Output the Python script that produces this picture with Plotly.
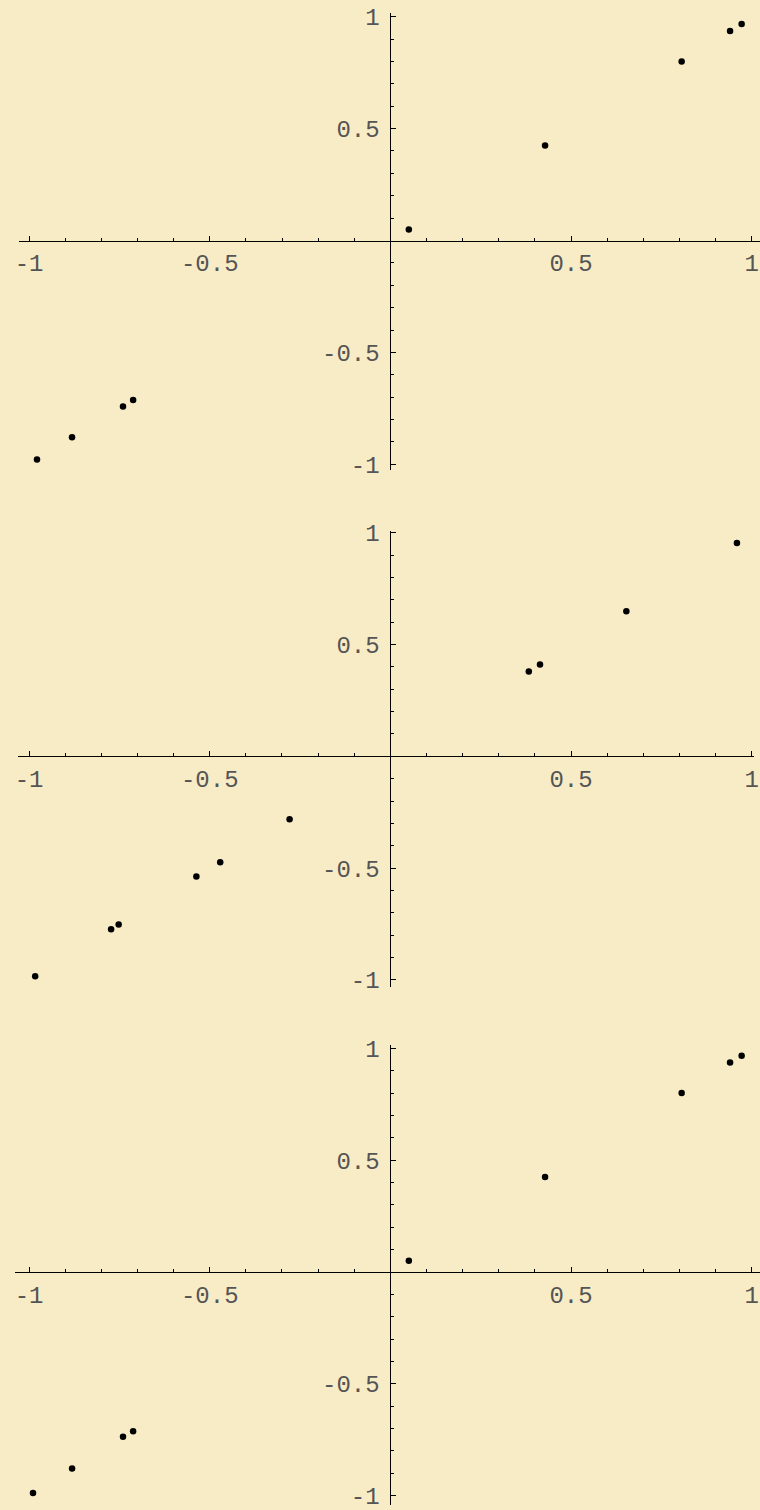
import plotly.graph_objects as go

# ---- data ----
p1_x = [0.051, 0.428, 0.806, 0.940, 0.972, -0.978, -0.881, -0.740, -0.712]
p1_y = [0.049, 0.425, 0.800, 0.936, 0.967, -0.979, -0.879, -0.742, -0.713]

p2_x = [0.383, 0.414, 0.653, 0.959, -0.279, -0.471, -0.537, -0.752, -0.773, -0.983]
p2_y = [0.379, 0.410, 0.649, 0.954, -0.282, -0.474, -0.537, -0.752, -0.773, -0.983]

p3_x = [0.051, 0.428, 0.806, 0.940, 0.972, -0.989, -0.881, -0.740, -0.712]
p3_y = [0.050, 0.425, 0.800, 0.936, 0.967, -0.988, -0.878, -0.737, -0.712]

tick_vals = [-1, -0.5, 0.5, 1]
tick_text = ["-1", "-0.5", "0.5", "1"]
minor_vals = [-0.9, -0.8, -0.7, -0.6, -0.4, -0.3, -0.2, -0.1,
              0.1, 0.2, 0.3, 0.4, 0.6, 0.7, 0.8, 0.9]

BG = "#F7ECC6"
FONT = dict(family="Liberation Mono, Courier New, monospace", size=24, color="#555555")
W, H = 760, 1510

# pixel geometry of each panel: (x-line left, x-line right, y-line top, y-line bottom)
panels = [
    dict(x=p1_x, y=p1_y, left=19.4, right=760, top=13, bottom=470, y0px=240.5, ys=223.8),
    dict(x=p2_x, y=p2_y, left=18, right=754, top=530.7, bottom=986.7, y0px=756.3, ys=223.65),
    dict(x=p3_x, y=p3_y, left=14.5, right=760, top=1045, bottom=1505, y0px=1272.0, ys=223.7),
]
X0PX, XS = 390.4, 361.35

fig = go.Figure()
layout = {}
for i, p in enumerate(panels, start=1):
    sfx = "" if i == 1 else str(i)
    fig.add_trace(go.Scatter(
        x=p["x"], y=p["y"], mode="markers",
        marker=dict(color="black", size=6.5),
        xaxis="x" + sfx, yaxis="y" + sfx, hoverinfo="skip",
    ))
    xr = [(p["left"] - X0PX) / XS, (p["right"] - X0PX) / XS]
    yr = [(p["y0px"] - p["bottom"]) / p["ys"], (p["y0px"] - p["top"]) / p["ys"]]
    common = dict(
        tickmode="array", tickvals=tick_vals, ticktext=tick_text,
        ticks="inside", ticklen=5, tickwidth=1, tickcolor="black",
        showline=True, linecolor="black", linewidth=1,
        showgrid=False, zeroline=False, tickfont=FONT, automargin=False,
        ticklabeloverflow="allow",
        minor=dict(ticks="inside", ticklen=3, tickwidth=1, tickcolor="black",
                   tickmode="array", tickvals=minor_vals, showgrid=False),
        fixedrange=True,
    )
    layout["xaxis" + sfx] = dict(
        common, domain=[p["left"] / W, p["right"] / W], range=xr,
        anchor="free", position=1 - p["y0px"] / H, side="bottom",
        ticklabelstandoff=1,
    )
    layout["yaxis" + sfx] = dict(
        common, domain=[1 - p["bottom"] / H, 1 - p["top"] / H], range=yr,
        anchor="free", position=X0PX / W, side="left",
        ticklabelstandoff=6,
    )

fig.update_layout(
    width=W, height=H, margin=dict(l=0, r=0, t=0, b=0, autoexpand=False),
    paper_bgcolor=BG, plot_bgcolor=BG, showlegend=False,
    **layout,
)
fig.write_html("out.html")
